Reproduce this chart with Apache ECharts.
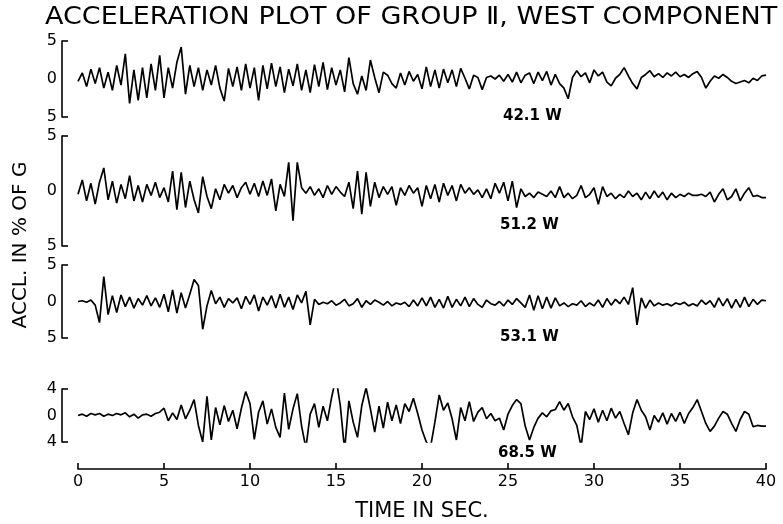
<!DOCTYPE html>
<html>
<head>
<meta charset="utf-8">
<title>Acceleration plot of Group II, West component</title>
<script src="https://cdn.jsdelivr.net/npm/echarts@6/dist/echarts.min.js"></script>
<style>
  html, body { margin: 0; padding: 0; background: #fff; }
  #chart { width: 783px; height: 524px; }
</style>
</head>
<body>
<div id="chart"></div>
<script>
const dt = 0.25;

// Station labels, one per trace
const stations = ['42.1 W', '51.2 W', '53.1 W', '68.5 W'];

// Acceleration in % of g, sampled every dt from 0 to 40 s
const accel421W = [
  -0.3, 0.8, -1.0, 1.3,   -0.6, 1.5, -1.2, 0.9,   -1.5, 1.8, -0.8, 3.3,   -3.2, 1.2, -2.8, 1.5,
  -2.5, 2.0, -1.5, 3.1,   -2.5, 1.5, -1.2, 2.2,    4.2, -2.0, 1.8, -1.0,   1.5, -1.5, 1.2, -0.8,
   1.8, -1.2, -2.9, 1.4,  -1.0, 1.6, -1.5, 2.0,   -1.2, 1.5, -2.8, 1.8,   -1.3, 2.1, -1.0, 1.6,
  -1.8, 1.3, -0.9, 2.0,   -1.5, 1.2, -1.8, 1.9,   -1.0, 2.2, -1.4, 1.5,   -0.8, 1.2, -1.7, 2.8,
  -0.6, -2.0, 0.4, -1.5,   2.5, 0.2, -1.8, 0.9,    0.5, -0.6, -1.2, 0.8,  -0.8, 1.0, -0.3, 0.6,
  -1.3, 1.6, -1.0, 1.2,   -1.2, 1.3, -0.5, 1.2,   -1.0, 1.4, 0.1, -1.3,    0.5, 0.2, -1.4, 0.2,
   0.4, 0.0, 0.5, -0.3,    0.6, -0.4, 0.9, -0.5,   0.5, 0.8, -0.6, 0.9,   -0.2, 1.0, -0.8, 0.6,
  -0.6, -1.2, -2.6, 0.2,   1.1, 0.3, 0.8, -0.5,    1.2, 0.4, 0.9, -0.4,   -0.9, 0.1, 0.6, 1.5,
   0.4, -0.6, -1.3, 0.2,   0.6, 1.1, 0.3, 0.7,     0.2, 0.8, 0.4, 0.9,     0.3, 0.6, 0.2, 0.7,
   1.0, 0.2, -1.2, -0.3,   0.4, 0.1, 0.6, 0.2,    -0.3, -0.6, -0.4, -0.2, -0.5, 0.1, -0.2, 0.4,
   0.5
];

const accel512W = [
  -0.3, 1.0, -0.9, 0.7,   -1.2, 0.8, 2.1, -0.8,    0.9, -1.1, 0.6, -0.7,   1.4, -0.9, 0.5, -1.0,
   0.6, -0.4, 0.8, -0.6,   0.3, -1.0, 1.8, -1.7,   1.7, -1.5, 0.9, -0.8,  -2.0, 1.3, -0.5, -1.6,
   0.2, -0.8, 0.6, -0.2,   0.5, -0.6, 0.3, 0.8,   -0.3, 0.7, -0.5, 0.9,   -0.4, 1.1, -1.8, 0.6,
  -0.5, 2.6, -2.7, 2.6,    0.3, -0.2, 0.4, -0.4,   0.2, -0.6, 0.5, -0.3,   0.4, -0.1, -0.5, 0.8,
  -1.6, 1.8, -2.1, 1.7,   -1.4, 0.8, -0.6, 0.4,   -0.3, 0.4, -1.3, 0.3,   -0.4, 0.5, -0.2, 0.3,
  -1.4, 0.5, -0.7, 0.6,   -1.0, 0.7, -0.4, 0.5,   -0.9, 0.6, -0.2, 0.3,   -0.3, 0.1, -0.6, 0.2,
  -0.7, 0.7, -0.2, 0.8,   -0.9, 0.9, -1.5, 0.2,   -0.5, -0.2, -0.6, -0.1, -0.3, -0.5, 0.0, -0.6,
   0.4, -0.6, -0.2, -0.7, -0.4, 0.5, -0.6, -0.3,   0.3, -1.2, 0.4, -0.5,  -0.2, -0.7, -0.3, -0.6,
   0.0, -0.5, -0.2, -0.8, -0.1, -0.7, 0.0, -0.6,  -0.1, -0.8, -0.2, -0.6,  -0.3, -0.5, -0.2, -0.4,
  -0.4, -0.3, -0.5, -0.1, -1.0, -0.3, 0.2, -0.8,  -0.5, 0.2, -0.9, -0.2,   0.3, -0.5, -0.4, -0.6,
  -0.6
];

const accel531W = [
   0.0, 0.1, -0.1, 0.2,   -0.5, -2.9, 3.4, -1.8,   0.8, -1.5, 0.9, -0.7,   0.6, -0.9, 0.4, -0.5,
   0.8, -0.6, 0.5, -0.8,   1.0, -1.4, 1.6, -1.6,   1.2, -0.9, 1.0, 3.0,    2.2, -3.8, -0.6, 1.5,
  -0.3, 0.6, -0.8, 0.4,   -0.2, 0.5, -1.0, 0.7,   -0.4, 0.9, -1.3, 0.6,   -0.5, 0.8, -0.9, 1.0,
  -0.8, 0.6, -1.1, 0.9,   -0.2, 1.4, -3.2, 0.3,   -0.4, -0.1, -0.3, 0.1,  -0.5, -0.2, 0.3, -0.6,
  -0.3, 0.4, -0.8, 0.1,   -0.4, 0.2, -0.1, -0.5,   0.0, -0.6, -0.2, -0.4, -0.1, -0.7, 0.2, -0.6,
   0.5, -0.6, 0.6, -0.8,   0.3, -0.9, 0.7, -0.8,   0.3, -0.6, 0.6, -0.7,   0.4, -0.4, -0.8, 0.2,
  -0.3, -0.5, 0.0, -0.6,   0.2, -0.4, 0.4, -0.2,  -0.8, 0.9, -1.2, 0.8,   -1.0, 0.6, -0.9, 0.5,
  -0.6, -0.2, -0.7, -0.3, -0.5, 0.1, -0.7, -0.2,  -0.6, 0.2, -0.8, 0.4,   -0.5, 0.3, -0.3, 0.6,
  -0.4, 1.9, -3.2, 0.5,   -0.9, 0.2, -0.6, -0.2,  -0.5, -0.3, -0.6, -0.2, -0.4, -0.1, -0.6, -0.3,
  -0.6, 0.2, -0.4, 0.1,   -0.8, 0.5, -0.6, 0.4,   -0.9, 0.3, -0.8, 0.6,   -0.7, 0.3, -0.4, 0.2,
   0.1
];

const accel685W = [
   0.0, 0.2, -0.1, 0.3,    0.1, 0.3, -0.1, 0.2,    0.0, 0.3, 0.1, 0.4,    -0.2, 0.2, -0.4, 0.1,
   0.2, -0.1, 0.3, 0.5,    1.1, -0.8, 0.4, -0.6,   1.6, -0.5, 0.8, 2.4,   -1.5, -4.0, 2.9, -3.7,
   1.2, -1.4, 1.5, -0.9,   0.8, -2.0, 1.1, 3.6,    1.8, -3.6, 0.5, 2.2,   -1.3, 1.0, -1.8, -3.3,
   3.4, -2.1, 1.0, 3.3,   -1.6, -4.9, 0.2, 1.8,   -1.8, 1.4, -0.8, 2.8,    5.7, 1.5, -5.2, 2.2,
  -1.0, -3.3, 1.5, 4.2,    1.0, -2.5, 1.4, -1.9,   2.0, -0.8, 1.6, -1.2,   1.8, 0.6, 2.6, 0.3,
  -2.2, -4.0, -4.7, -1.0,  3.1, 0.8, 1.9, -0.5,  -3.7, 1.2, -0.8, 2.1,   -0.9, 0.5, 1.2, -0.5,
   0.3, -0.8, -0.4, -2.2,  0.2, 1.5, 2.4, 1.8,   -1.6, -3.7, -1.8, -0.4,   0.4, -0.2, 0.7, 0.9,
   2.1, 0.8, 1.8, -0.2,   -1.5, -4.7, 0.6, -0.6,   1.0, -1.0, 0.8, -0.8,   1.1, -0.4, 0.6, -1.2,
  -2.9, 0.4, 2.4, 0.8,    -0.2, -2.2, 0.0, -1.0,   0.4, -1.3, 0.3, -0.9,   0.5, -1.2, 0.3, 1.2,
   2.4, 0.6, -1.2, -2.4,  -1.6, -0.4, 0.6, 0.2,   -1.2, -2.4, -0.6, 0.6,   0.2, -1.7, -1.5, -1.6,
  -1.6
];

// Vertical range of each trace's axis (labels at -lim, 0, +lim)
const traceValues = [accel421W, accel512W, accel531W, accel685W];
const axisLimits = [5, 5, 5, 4];
const timeTicks = [0, 5, 10, 15, 20, 25, 30, 35, 40];
const timeMax = 40;

// Layout: traces run from plotLeft to plotRight; each strip's scale bracket
// stands at bracketX, a little to the left of t = 0.
const W = 783;
const plotLeft = 78, plotRight = 766, bracketX = 62;
const stripTop = [41, 136, 265, 389];
const stripHeight = [76, 110, 73, 53];
const timeAxisY = 469;
const stationLabelPos = [[503, 116], [500, 225], [500, 337], [498, 453]];

const FONT = 'DejaVu Sans';
const INK = '#000';

const grids = [], xAxes = [], yAxes = [], series = [];
const nStrips = traceValues.length;

traceValues.forEach((vals, k) => {
  const lim = axisLimits[k];

  // trace area
  grids.push({ left: plotLeft, right: W - plotRight, top: stripTop[k], height: stripHeight[k] });
  xAxes.push({ type: 'value', gridIndex: k, min: 0, max: timeMax, show: false });
  yAxes.push({ type: 'value', gridIndex: k, min: -lim, max: lim, show: false });

  series.push({
    type: 'line', xAxisIndex: k, yAxisIndex: k,
    data: vals.map((v, i) => [i * dt, v]),
    showSymbol: false, symbol: 'none',
    lineStyle: { color: INK, width: 1.7 },
    silent: true
  });
});

// Scale brackets: narrow grids that only carry the vertical axis of each strip
traceValues.forEach((vals, k) => {
  const lim = axisLimits[k];
  const gi = nStrips + k;
  grids.push({ left: bracketX, width: 8, top: stripTop[k], height: stripHeight[k] });
  xAxes.push({ type: 'value', gridIndex: gi, min: 0, max: 1, show: false });
  yAxes.push({
    type: 'value', gridIndex: gi, min: -lim, max: lim, interval: lim,
    axisLine: { show: true, onZero: false, lineStyle: { color: INK, width: 1.6 } },
    axisTick: { show: true, inside: true, length: 6, lineStyle: { color: INK, width: 1.6 },
      customValues: [-lim, lim] },
    axisLabel: { color: INK, fontFamily: FONT, fontSize: 16, margin: 5,
      formatter: v => String(Math.abs(v)) },
    splitLine: { show: false }
  });
});

// Shared time axis along the bottom
const tGrid = grids.length;
grids.push({ left: plotLeft, right: W - plotRight, top: timeAxisY - 1, height: 1 });
xAxes.push({
  type: 'value', gridIndex: tGrid, min: 0, max: timeMax, interval: 5,
  position: 'bottom',
  axisLine: { show: true, onZero: false, lineStyle: { color: INK, width: 1.6 } },
  axisTick: { show: true, inside: true, length: 6, lineStyle: { color: INK, width: 1.6 } },
  axisLabel: { show: true, color: INK, fontFamily: FONT, fontSize: 16, margin: 5,
    customValues: timeTicks },
  splitLine: { show: false },
  name: 'TIME IN SEC.', nameLocation: 'middle', nameGap: 32,
  nameTextStyle: { color: INK, fontFamily: FONT, fontSize: 21 }
});
yAxes.push({ type: 'value', gridIndex: tGrid, min: 0, max: 1, show: false });

const graphics = [
  { type: 'text', x: 45, y: 5, scaleX: 1.08,
    style: { text: 'ACCELERATION PLOT OF GROUP Ⅱ, WEST COMPONENT', fill: INK,
      font: '25px "DejaVu Sans"' } },
  { type: 'text', x: 21, y: 245, rotation: Math.PI / 2,
    style: { text: 'ACCL. IN % OF G', fill: INK, font: '20px "DejaVu Sans"',
      align: 'center', verticalAlign: 'middle' } }
];
stations.forEach((s, k) => {
  graphics.push({ type: 'text', x: stationLabelPos[k][0], y: stationLabelPos[k][1],
    style: { text: s, fill: INK, font: 'bold 15px "DejaVu Sans"', verticalAlign: 'middle' } });
});

const chart = echarts.init(document.getElementById('chart'), null, { renderer: 'canvas' });
chart.setOption({
  animation: false,
  backgroundColor: '#fff',
  grid: grids,
  xAxis: xAxes,
  yAxis: yAxes,
  series: series,
  graphic: graphics
});
</script>
</body>
</html>
